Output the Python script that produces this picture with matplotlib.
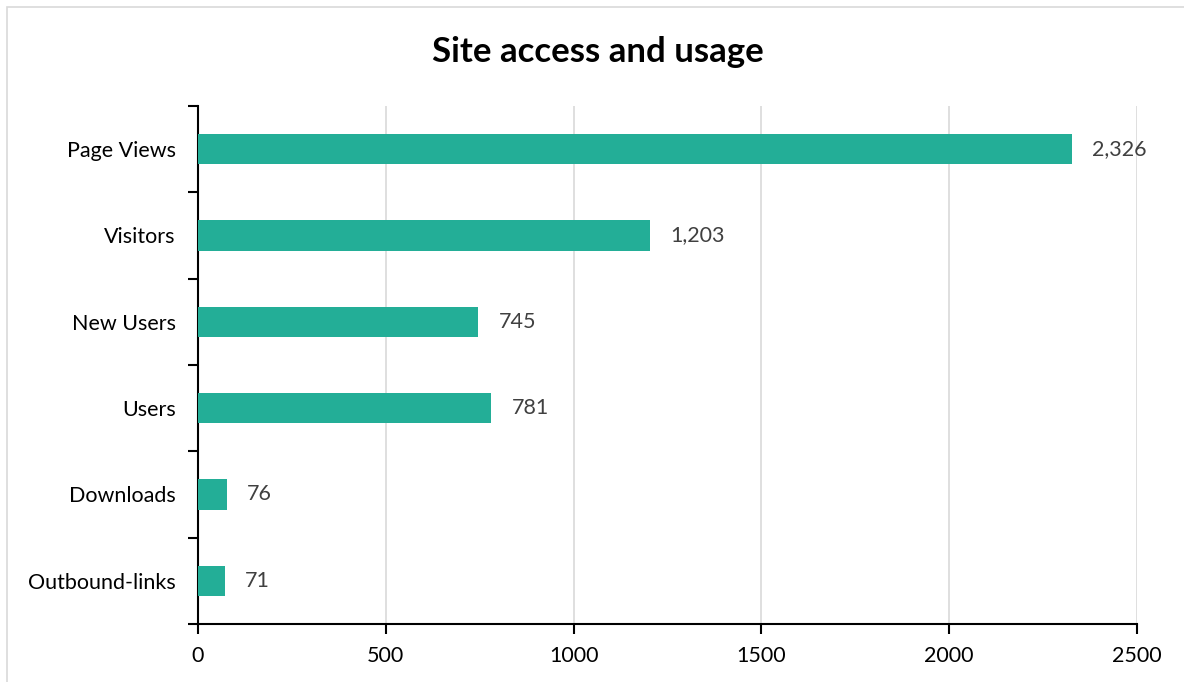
import matplotlib.pyplot as plt
from matplotlib.patches import Rectangle

categories = ["Page Views", "Visitors", "New Users", "Users", "Downloads", "Outbound-links"]
values = [2326, 1203, 745, 781, 76, 71]
xticks = [0, 500, 1000, 1500, 2000, 2500]

BAR_COLOR = "#23AE97"
LABEL_COLOR = "#404040"

plt.rcParams['font.family'] = ['Lato', 'DejaVu Sans']

fig = plt.figure(figsize=(11.84, 6.82), dpi=100)
# light chart-area border like the Excel export
fig.patches.append(Rectangle((7 / 1184, -0.1), 1.2, (1 - 7 / 682) + 0.1,
                             transform=fig.transFigure, fill=False,
                             edgecolor="#D9D9D9", linewidth=1.2))

ax = fig.add_axes([198 / 1184, 1 - 624 / 682, (1137 - 198) / 1184, (624 - 106) / 682])

y = list(range(len(categories)))
ax.barh(y, values, height=0.35, color=BAR_COLOR, zorder=3)
ax.set_ylim(len(categories) - 0.5, -0.5)
ax.set_xlim(0, 2500)

ax.set_yticks(y)
ax.set_yticklabels(categories)
ax.set_yticks([i - 0.5 for i in range(len(categories) + 1)], minor=True)
ax.tick_params(axis='y', which='major', length=0, pad=16, labelsize=15.5)
ax.tick_params(axis='y', which='minor', length=7, width=1.5, direction='out')

ax.set_xticks(xticks)
ax.set_xticklabels([str(t) for t in xticks])
ax.tick_params(axis='x', length=7, width=1.5, direction='out', labelsize=15.5, pad=9)

ax.grid(axis='x', color="#D9D9D9", linewidth=1.2, zorder=0)
for s in ["top", "right"]:
    ax.spines[s].set_visible(False)
ax.spines["left"].set_linewidth(1.5)
ax.spines["bottom"].set_linewidth(1.5)

for yi, v in zip(y, values):
    ax.text(v + 55, yi, f"{v:,}", va='center', ha='left', fontsize=15.5, color=LABEL_COLOR)

fig.text(598 / 1184, 1 - 52 / 682, "Site access and usage", ha='center', va='center',
         fontsize=25, fontweight='bold')

fig.savefig("out.png", dpi=100)
